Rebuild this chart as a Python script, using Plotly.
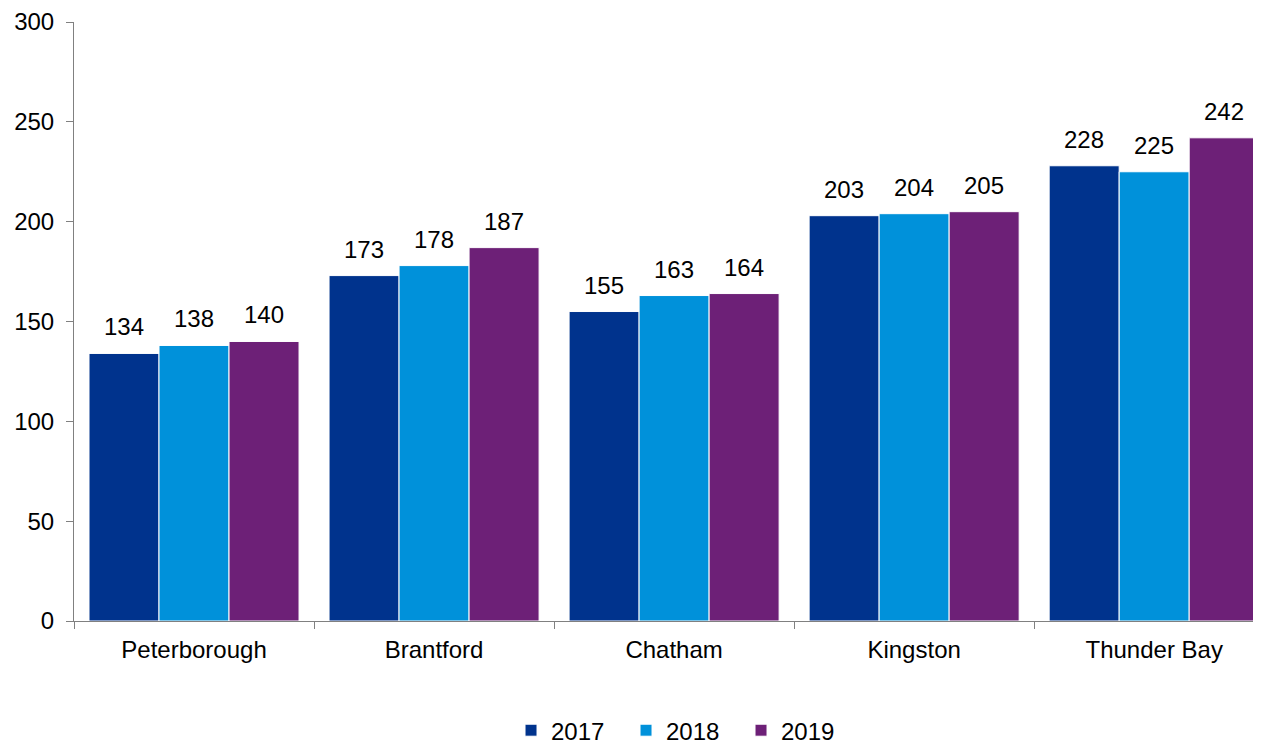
import plotly.graph_objects as go

categories = ["Peterborough", "Brantford", "Chatham", "Kingston", "Thunder Bay"]
years = ["2017", "2018", "2019"]
values_2017 = [134, 173, 155, 203, 228]
values_2018 = [138, 178, 163, 204, 225]
values_2019 = [140, 187, 164, 205, 242]
colors = ["#00338D", "#0091DA", "#6D2077"]
y_ticks = [0, 50, 100, 150, 200, 250, 300]

FONT = "Liberation Sans, Arial, sans-serif"
FS = 24
bar_px = 240 * 0.875 / 3

fig = go.Figure()
series = [values_2017, values_2018, values_2019]
for i, (name, vals, col) in enumerate(zip(years, series, colors)):
    fig.add_trace(go.Bar(
        x=categories, y=vals, name=name,
        marker=dict(color=col, line=dict(color="white", width=1)),
    ))
    for c, v in zip(categories, vals):
        fig.add_annotation(x=c, y=v, text=str(v), showarrow=False,
                           xshift=(i - 1) * bar_px, yshift=11, yanchor="bottom",
                           font=dict(size=FS, color="black", family=FONT))

fig.update_layout(
    width=1261, height=760,
    barmode="group", bargap=0.125, bargroupgap=0,
    plot_bgcolor="white", paper_bgcolor="white",
    margin=dict(l=66, r=8, t=14, b=147),
    font=dict(family=FONT, size=FS, color="black"),
    showlegend=True,
    legend=dict(orientation="h", x=0.5135, xanchor="center", y=-0.183, yanchor="middle",
                font=dict(size=FS), itemwidth=30, traceorder="normal",
                entrywidth=70, entrywidthmode="pixels"),
    xaxis=dict(range=[-0.5, 4.445], showline=True, linecolor="#808080", linewidth=1,
               ticks="outside", tickson="boundaries", ticklen=7, tickcolor="#808080",
               showgrid=False, zeroline=False, automargin=False, ticklabelstandoff=7),
    yaxis=dict(range=[0, 300], tickvals=y_ticks, showline=True, linecolor="#808080", linewidth=1,
               ticks="outside", ticklen=7, tickcolor="#808080", showgrid=False, zeroline=False,
               automargin=False, ticklabelstandoff=7),
)
fig.write_html("out.html")
